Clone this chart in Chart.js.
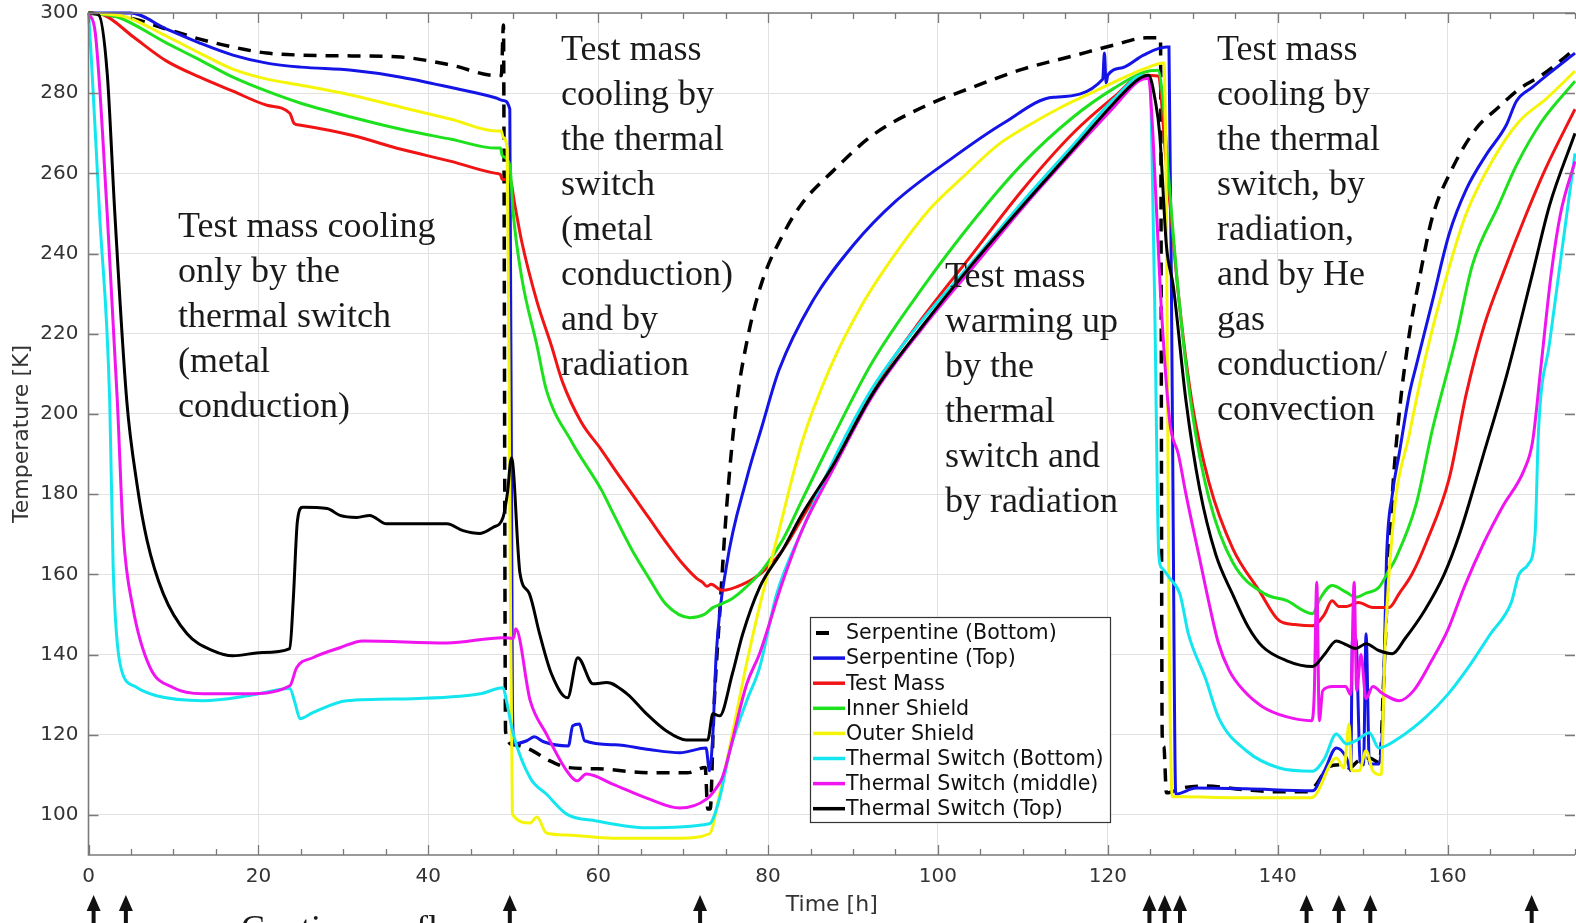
<!DOCTYPE html>
<html lang="en">

<head>
    <meta charset="UTF-8">
    <title>Temperature history</title>
    <script src="https://cdn.jsdelivr.net/npm/chart.js"></script>
    <style>
        body { margin: 0; background: #fff; }
        canvas { display: block; }
    </style>
</head>

<body>
    <canvas id="tempChart" width="1576" height="923"></canvas>
</body>

<script>
    // time [h] and temperature [K] of each sensor
    var serpBottomTime = [0, 2.2, 5.3, 9.2, 13.1, 17, 21, 25, 31, 36.8, 42.7, 48, 48.6, 48.85, 49.1, 50, 52, 54, 56.5, 60, 66, 70.5, 72.6, 72.9, 73.2, 73.6, 74.3, 75.1, 76.2, 77.6, 79.3, 81.7, 84, 87.6, 92.3, 98.2, 104.1, 110, 115.9, 120.7, 124.5, 126.2, 126.4, 126.6, 126.9, 128.9, 131.3, 136, 139.6, 143.5, 144.5, 146, 147.5, 148.4, 149.5, 150.8, 152, 152.5, 153, 153.5, 154.3, 155.5, 156.7, 158.2, 160.5, 163.3, 166, 168.4, 171.1, 175];
    var serpBottomTemp = [300, 299.5, 298.5, 296, 293.5, 291.5, 290, 289.5, 289.3, 289, 287, 284.4, 284.4, 297, 120.8, 117.5, 116.3, 113.8, 111.8, 111.5, 110.5, 110.5, 111.8, 101.5, 101.5, 125, 150, 176, 201, 219, 233, 244.5, 252.5, 260.5, 269.5, 276.5, 281.5, 286, 289.3, 292, 293.8, 293.8, 120, 117, 105.5, 106.8, 107.2, 106.3, 105.8, 105.8, 107.5, 112, 112.5, 111.7, 113.5, 114.2, 113, 135, 160, 180, 200, 220, 234, 249, 261, 271, 276.5, 281, 284.5, 291];

    var serpTopTime = [0, 4.9, 9.2, 13.1, 17, 21, 25, 31, 36.8, 42.7, 48, 48.8, 49.6, 49.9, 50.1, 51.6, 52.5, 53.5, 56.5, 57, 57.8, 58.4, 62, 66, 69.6, 72.7, 73.1, 73.5, 73.9, 75.1, 77.5, 79.3, 81.3, 85.2, 90, 95, 101.8, 107.7, 113.6, 119.4, 119.6, 119.8, 120, 121.8, 124.2, 126.9, 127.2, 127.6, 128, 130.4, 136.3, 144.1, 145.5, 146.9, 148.1, 148.6, 148.8, 149.2, 149.7, 150.1, 150.4, 150.8, 151.9, 152.4, 152.8, 153.5, 154.3, 155.5, 156.3, 158.2, 160.2, 162.2, 164.5, 166.9, 168.1, 170, 172, 175];
    var serpTopTemp = [300, 300, 296, 292.5, 289.5, 287.5, 286.5, 285.7, 284, 281.4, 278.8, 278.2, 276, 130, 117.7, 118.5, 119.5, 118.3, 117.2, 122.2, 122.7, 118.5, 117.5, 116.3, 115.5, 116.7, 111, 120, 140, 162, 184, 197, 211, 228, 242, 253, 264, 272.5, 279, 283.5, 290, 282.5, 284.5, 286.4, 289.5, 291.5, 291.5, 200, 105.2, 106.7, 106.5, 106, 111, 116.7, 114.2, 111, 144, 144, 113.5, 112.5, 145.2, 112.7, 112.7, 125, 163.4, 180, 190, 205, 212, 228, 245, 256, 264.5, 272, 278, 281.5, 285, 290];

    var testMassTime = [0, 1.8, 5.3, 9.2, 13.1, 17, 21, 23.7, 24.2, 25, 31, 36.8, 42.7, 48, 48.5, 48.7, 49.6, 50.2, 51, 52.8, 54.5, 55.8, 58, 60.4, 62, 64, 66, 68, 70, 71.6, 72.3, 72.8, 73.3, 74.6, 77, 79.3, 81.7, 84, 87.6, 92.3, 98.2, 104.1, 110, 115.9, 120.7, 124.2, 125.9, 126.9, 128.4, 129.9, 131.9, 134.7, 137.8, 140.2, 142, 144.1, 145.5, 146.4, 147.2, 148.1, 149.5, 151.2, 153.1, 154.3, 155.8, 157.5, 160.2, 162.2, 164.3, 166.7, 169.1, 171.5, 175];
    var testMassTemp = [300, 299.5, 294, 288, 284, 280.5, 277, 275, 272.5, 272, 269.5, 266, 263, 260, 259.7, 258.5, 258.5, 252, 243, 228, 217, 208, 198, 191, 186, 180, 174, 168, 162.5, 159, 158, 157, 157.5, 156, 157.5, 160.5, 166, 174, 187, 206, 224, 240, 256, 270, 279, 284.5, 284.3, 262, 228, 203, 183, 166.5, 156, 148.4, 147.5, 147.2, 150, 153.4, 152, 152, 153, 151.7, 151.7, 155.2, 160, 168, 184, 205, 222, 236, 249, 261, 276];

    var innerShieldTime = [0, 3.4, 9.2, 13.1, 17, 21, 25, 31, 36.8, 42.7, 48, 48.5, 48.7, 49.6, 50, 51, 52.8, 53.9, 56.9, 60.4, 61.7, 64, 66, 68, 70.8, 72.5, 73.5, 74.6, 75.8, 77, 79.3, 81.7, 84, 87.6, 92.3, 98.2, 104.1, 110, 115.9, 120.7, 124.2, 125.9, 126.5, 127.2, 128.4, 129.9, 131.9, 134.7, 138.6, 141, 144.1, 145, 146.4, 148.1, 149.2, 150.4, 151.9, 153.1, 153.9, 156.3, 158.2, 161, 162.9, 166, 168.1, 171.1, 175];
    var innerShieldTemp = [300, 299, 292.5, 288.3, 284, 280.5, 277.5, 274, 271, 268.5, 266.3, 266.3, 264.5, 262, 250, 234, 217, 206, 193, 181, 175.5, 166, 159, 152.5, 149.2, 150, 151.7, 152.7, 154, 156, 161, 168.5, 178.5, 194, 213, 231.5, 248, 262.5, 274, 281.2, 285.2, 285.7, 278, 258, 228, 201, 179, 163, 155, 153.5, 150.2, 154, 157.2, 155.5, 154.3, 155.3, 156.7, 161, 164, 177.5, 196, 219, 237, 252, 262, 273, 283];

    var outerShieldTime = [0, 4.4, 9.2, 13.1, 17, 21, 25, 31, 36.8, 42.7, 48, 48.6, 48.8, 49.3, 49.6, 49.9, 52, 52.8, 53.9, 56.3, 61.7, 69.6, 73.1, 74.3, 75.8, 77.5, 79, 81.3, 84, 87.2, 91, 95, 99, 102.9, 107, 110.7, 114.5, 118.5, 122, 124.2, 126.6, 126.9, 127.2, 127.6, 128.9, 134.8, 144, 146.9, 147.8, 148.4, 148.7, 149.6, 150.4, 151.2, 152.2, 152.6, 153.7, 155.5, 157.5, 160.2, 162.2, 165.3, 168.4, 171.6, 175];
    var outerShieldTemp = [300, 299, 294.2, 290, 286, 283.5, 282, 279.5, 276.5, 273.5, 270.6, 270.6, 269, 266, 180, 100.2, 98, 99.5, 95.5, 95, 94.2, 94.2, 95.3, 105.2, 120.2, 138, 152, 171, 193, 211, 227, 240, 251, 259, 267, 272, 276.5, 280.5, 284, 286, 287.5, 250, 150, 104.5, 104.5, 104.3, 104.3, 114.2, 111.7, 122.7, 111, 111, 116, 111, 110, 140, 175, 195, 215, 236.7, 250, 263.3, 272.9, 278.6, 285.5];

    var switchBottomTime = [0, 0.3, 1.3, 2.5, 2.9, 3.3, 3.9, 5.5, 8, 13.5, 19, 23.7, 24.3, 24.9, 26.4, 30.4, 38.2, 46.1, 48.8, 49.2, 50, 52, 53.9, 56.3, 59.8, 65.7, 73.1, 74.3, 75.5, 77.5, 79, 81, 84, 87.6, 92.3, 98.2, 104.1, 110, 115.9, 120.7, 124.2, 124.9, 125.5, 126, 126.4, 127.3, 128.5, 129.5, 131.5, 133.1, 136.3, 140.2, 144.1, 145.5, 146.9, 148.1, 149.2, 150.8, 151.9, 154.3, 157.5, 160, 162.5, 165, 167.5, 168.4, 169.5, 170.3, 170.7, 172, 175];
    var switchBottomTemp = [300, 290, 250, 203, 162, 145, 136, 132, 129.7, 128.5, 129.8, 131.5, 128, 124, 125.5, 128.5, 129, 130.2, 131.7, 128.5, 120.2, 109.2, 105.2, 100.2, 98.5, 96.8, 97.8, 104.2, 116, 128.5, 136.7, 155, 171, 188, 206.5, 223.5, 238, 253, 267, 278.5, 284.4, 284, 230, 165, 161.5, 159, 155, 145, 134, 124, 116, 111.7, 110.9, 114, 120.2, 117.7, 118.5, 120.5, 116.7, 119.2, 124.5, 130, 137, 145, 153, 160, 162.5, 170, 195.7, 217.6, 265];

    var switchMiddleTime = [0, 0.8, 2.2, 3.4, 4.1, 5.2, 7.2, 10, 13.5, 18.6, 23.7, 24.5, 26.4, 29.6, 32.3, 42.2, 48.8, 50, 50.3, 52, 53.9, 56.3, 57.5, 58.6, 61.7, 65.7, 69.6, 72.8, 73.9, 74.6, 77.5, 79, 81.7, 84, 87.6, 92.3, 98.2, 104.1, 110, 115.9, 120.7, 123.6, 124.8, 125.3, 126.2, 127.3, 128.3, 129.2, 130.8, 132, 133, 134.3, 136, 138.2, 141, 144, 144.3, 144.6, 144.9, 145.3, 146.5, 148, 148.6, 149, 149.3, 149.8, 150.4, 151.2, 152.4, 154.3, 156, 158, 160, 162, 164.3, 166.5, 169, 170, 171, 172.2, 173.3, 175];
    var switchMiddleTemp = [300, 295, 250, 203, 170, 152, 137, 131.7, 130.2, 130.2, 132.2, 136.7, 139.2, 141.7, 143.4, 142.9, 144.2, 144, 146.4, 128.5, 120.2, 111, 108.5, 110.2, 107.7, 104.2, 101.7, 104, 106.7, 109.2, 132.7, 140.2, 158, 171, 186, 204.5, 221.5, 236.5, 251.5, 265.5, 276.5, 283, 283.7, 270, 230, 198, 190, 180, 164, 152, 143, 136, 131, 127, 124.5, 123.5, 130, 158, 123.5, 131, 132, 132, 130, 158, 131, 140, 129, 132, 130.2, 128.5, 131, 138, 146, 157, 168, 177, 186, 193, 212, 235, 250, 263];

    var switchTopTime = [0, 1.2, 2.2, 3.1, 4.5, 5.7, 6.9, 8.8, 11.6, 14.7, 17, 20.5, 23.7, 24.1, 24.6, 25.2, 28.1, 29.6, 31.6, 33.1, 35.1, 42.2, 44.1, 46.1, 47.6, 48.8, 49.3, 49.8, 50.8, 51.9, 53.1, 54.5, 56.4, 57.6, 59.4, 61, 63.4, 65.7, 68, 70.4, 72.9, 73.5, 74.3, 75.8, 77, 79, 81.7, 84, 87.6, 92.3, 98.2, 104.1, 110, 115.9, 120.7, 123.6, 124.8, 125.6, 126.1, 126.9, 127.7, 129.2, 130.8, 132.7, 134.7, 136.5, 138.2, 141, 144.1, 145.5, 146.9, 148, 149.2, 150.4, 151.9, 153.5, 155, 157.3, 159.6, 161.4, 164.1, 167, 170, 172, 175];
    var switchTopTemp = [300, 299.5, 285, 250, 203.4, 182.6, 168.4, 155.2, 145.2, 140.9, 139.7, 140.5, 141.5, 153.4, 173.4, 176.7, 176.4, 174.7, 174.2, 174.7, 172.6, 172.6, 170.9, 170.2, 171.7, 174.2, 180, 189.1, 160.2, 155.2, 145.2, 135.2, 129.2, 139.2, 132.7, 133, 130.2, 125.2, 121, 118.7, 118.7, 125.2, 124.7, 135.2, 145, 156.7, 166, 175, 187, 205, 222, 237.5, 252, 266, 277.5, 283.5, 284.5, 278, 270, 242, 232, 203.3, 181.4, 165, 155, 147, 142, 138.5, 137, 140, 143.4, 142.5, 141.5, 142.7, 141, 140.2, 144, 151, 160, 170, 189, 210, 235, 252, 270];

    var xTicks = [0, 20, 40, 60, 80, 100, 120, 140, 160];
    var yTicks = [100, 120, 140, 160, 180, 200, 220, 240, 260, 280, 300];

    // arrows under the time axis
    var eventTimes = [0.6, 4.4, 49.6, 72.0, 124.9, 126.7, 128.5, 143.4, 147.2, 150.9, 169.9];

    var labels = ['Serpentine (Bottom)', 'Serpentine (Top)', 'Test Mass', 'Inner Shield', 'Outer Shield',
        'Thermal Switch (Bottom)', 'Thermal Switch (middle)', 'Thermal Switch (Top)'];
    var colors = ['#000000', '#1414e6', '#f01414', '#1ee11e', '#f5f50a', '#14e6f0', '#f014f0', '#000000'];

    function points(times, temps) {
        return times.map(function (t, i) { return { x: t, y: temps[i] }; });
    }

    var series = [
        points(serpBottomTime, serpBottomTemp),
        points(serpTopTime, serpTopTemp),
        points(testMassTime, testMassTemp),
        points(innerShieldTime, innerShieldTemp),
        points(outerShieldTime, outerShieldTemp),
        points(switchBottomTime, switchBottomTemp),
        points(switchMiddleTime, switchMiddleTemp),
        points(switchTopTime, switchTopTemp)
    ];

    var datasets = series.map(function (pts, i) {
        return {
            label: labels[i],
            data: pts,
            borderColor: colors[i],
            backgroundColor: colors[i],
            borderWidth: i == 0 ? 3.5 : 3,
            borderDash: i == 0 ? [13, 9] : [],
            cubicInterpolationMode: 'monotone',
            order: labels.length - i,
            clip: 4
        };
    });

    var axisFont = { family: 'DejaVu Sans', size: 20 };
    var titleFont = { family: 'DejaVu Sans', size: 22 };
    var serif = '36px "Liberation Serif", serif';

    var notes = [
        { x: 178, y: 237, lines: ['Test mass cooling', 'only by the', 'thermal switch', '(metal', 'conduction)'] },
        { x: 561, y: 60, lines: ['Test mass', 'cooling by', 'the thermal', 'switch', '(metal', 'conduction)', 'and by', 'radiation'] },
        { x: 945, y: 287, lines: ['Test mass', 'warming up', 'by the', 'thermal', 'switch and', 'by radiation'] },
        { x: 1217, y: 60, lines: ['Test mass', 'cooling by', 'the thermal', 'switch, by', 'radiation,', 'and by He', 'gas', 'conduction/', 'convection'] },
        { x: 241, y: 940, lines: ['Continuous flow'] }
    ];

    // inward ticks and the box around the plot
    var frame = {
        id: 'frame',
        afterDatasetsDraw: function (chart) {
            var ctx = chart.ctx, a = chart.chartArea, x = chart.scales.x, y = chart.scales.y;
            ctx.save();
            ctx.strokeStyle = '#7a7a7a';
            ctx.lineWidth = 1.3;
            ctx.beginPath();
            for (var t = 0; t <= 175; t += 5) {
                var px = Math.round(x.getPixelForValue(t)) + 0.5;
                var len = t % 20 == 0 ? 10 : 6;
                ctx.moveTo(px, a.bottom); ctx.lineTo(px, a.bottom - len);
                ctx.moveTo(px, a.top); ctx.lineTo(px, a.top + len);
            }
            yTicks.forEach(function (v) {
                var py = Math.round(y.getPixelForValue(v)) + 0.5;
                ctx.moveTo(a.left, py); ctx.lineTo(a.left + 10, py);
                ctx.moveTo(a.right, py); ctx.lineTo(a.right - 10, py);
            });
            ctx.stroke();
            ctx.lineWidth = 1.6;
            ctx.beginPath();
            ctx.moveTo(a.right, a.top); ctx.lineTo(a.left, a.top);
            ctx.lineTo(a.left, a.bottom); ctx.lineTo(a.right, a.bottom);
            ctx.stroke();
            ctx.restore();
        }
    };

    // legend box, arrows and the text blocks
    var extras = {
        id: 'extras',
        afterDraw: function (chart) {
            var ctx = chart.ctx, x = chart.scales.x;
            ctx.save();

            ctx.fillStyle = '#fff';
            ctx.fillRect(810, 617, 300, 205);
            ctx.strokeStyle = '#333';
            ctx.lineWidth = 1.2;
            ctx.strokeRect(810.5, 617.5, 300, 205);
            ctx.font = '20.6px "DejaVu Sans"';
            ctx.textBaseline = 'middle';
            chart.data.datasets.forEach(function (ds, i) {
                var ry = 633 + i * 25.1;
                ctx.strokeStyle = ds.borderColor;
                ctx.beginPath();
                if (i == 0) {
                    ctx.lineWidth = 4;
                    ctx.moveTo(816, ry); ctx.lineTo(829, ry);
                } else {
                    ctx.lineWidth = 3.5;
                    ctx.moveTo(813, ry); ctx.lineTo(845, ry);
                }
                ctx.stroke();
                ctx.fillStyle = '#111';
                ctx.fillText(ds.label, 846, ry + 1);
            });

            ctx.fillStyle = '#111';
            eventTimes.forEach(function (t) {
                var px = x.getPixelForValue(t);
                ctx.fillRect(px - 2, 906, 4, 17);
                ctx.beginPath();
                ctx.moveTo(px - 7, 911); ctx.lineTo(px, 895); ctx.lineTo(px + 7, 911);
                ctx.closePath();
                ctx.fill();
            });

            ctx.font = serif;
            ctx.textBaseline = 'alphabetic';
            ctx.fillStyle = '#1a1a1a';
            notes.forEach(function (n) {
                n.lines.forEach(function (s, k) {
                    ctx.fillText(s, n.x, n.y + k * 45);
                });
            });
            ctx.restore();
        }
    };

    new Chart(document.getElementById('tempChart'), {
        type: 'line',
        data: { datasets: datasets },
        options: {
            responsive: false,
            animation: false,
            devicePixelRatio: 1,
            layout: { padding: { top: 13, right: 1, bottom: 0, left: 0 } },
            elements: { point: { radius: 0 } },
            plugins: { legend: { display: false }, tooltip: { enabled: false } },
            scales: {
                x: {
                    type: 'linear', min: 0, max: 175,
                    afterBuildTicks: function (axis) { axis.ticks = xTicks.map(function (v) { return { value: v }; }); },
                    afterFit: function (s) { s.height = 68; s.paddingLeft = 0; s.paddingRight = 0; },
                    grid: { color: '#e2e2e2', drawTicks: false },
                    border: { display: false },
                    ticks: { padding: 10, color: '#333', font: axisFont },
                    title: { display: true, text: 'Time [h]', color: '#333', font: titleFont, padding: { top: 0, bottom: 5 } }
                },
                y: {
                    min: 90, max: 300,
                    afterBuildTicks: function (axis) { axis.ticks = yTicks.map(function (v) { return { value: v }; }); },
                    afterFit: function (s) { s.width = 88.5; s.paddingTop = 0; s.paddingBottom = 0; },
                    grid: { color: '#e2e2e2', drawTicks: false },
                    border: { display: false },
                    ticks: { padding: 10, color: '#333', font: axisFont },
                    title: { display: true, text: 'Temperature [K]', color: '#333', font: titleFont, padding: { top: 9, bottom: 0 } }
                }
            }
        },
        plugins: [frame, extras]
    });
</script>

</html>
